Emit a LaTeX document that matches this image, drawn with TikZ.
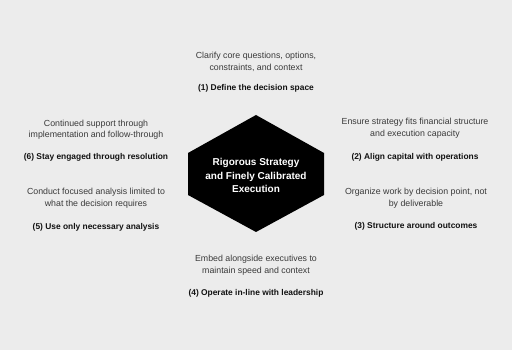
\documentclass[tikz,border=0pt]{standalone}
\usepackage{fontspec}
\setmainfont{Liberation Sans}
\usetikzlibrary{positioning}
\definecolor{canvasgray}{RGB}{236,236,236}
\definecolor{bodygray}{RGB}{58,58,58}
\definecolor{inkdark}{RGB}{17,17,17}
\tikzset{
  desc/.style={text=bodygray,font=\fontsize{8.8}{11.5}\selectfont,align=center,inner sep=0pt},
  title/.style={text=inkdark,font=\fontsize{8.4}{10}\selectfont\bfseries,align=center,inner sep=0pt}
}

\begin{document}
\begin{tikzpicture}[x=1pt,y=1pt]
    \fill[canvasgray] (0,0) rectangle (512,350);
    \useasboundingbox (0,0) rectangle (512,350);
    % central hexagon
    \fill[black] (256,235) -- (324,197) -- (324,155) -- (256,118)
      -- (188,155) -- (188,197) -- cycle;
    \node[text=white,font=\fontsize{10}{13.5}\selectfont\bfseries,align=center]
      (hub) at (256,174.5) {Rigorous Strategy\\and Finely Calibrated\\Execution};
    % (1) top
    \node[desc] (d1) at (256,288.25) {Clarify core questions, options,\\constraints, and context};
    \node[title] (t1) at (256,261.5) {(1) Define the decision space};
    % (2) right upper
    \node[desc] (d2) at (415,222) {Ensure strategy fits financial structure\\and execution capacity};
    \node[title] (t2) at (415,193) {(2) Align capital with operations};
    % (3) right lower
    \node[desc] (d3) at (416,152) {Organize work by decision point, not\\by deliverable};
    \node[title] (t3) at (416,124) {(3) Structure around outcomes};
    % (4) bottom
    \node[desc] (d4) at (256,85) {Embed alongside executives to\\maintain speed and context};
    \node[title] (t4) at (256,57) {(4) Operate in-line with leadership};
    % (5) left lower
    \node[desc] (d5) at (96,152) {Conduct focused analysis limited to\\what the decision requires};
    \node[title] (t5) at (96,123) {(5) Use only necessary analysis};
    % (6) left upper
    \node[desc] (d6) at (96,220.5) {Continued support through\\implementation and follow-through};
    \node[title] (t6) at (96,193) {(6) Stay engaged through resolution};
  \end{tikzpicture}
\end{document}
